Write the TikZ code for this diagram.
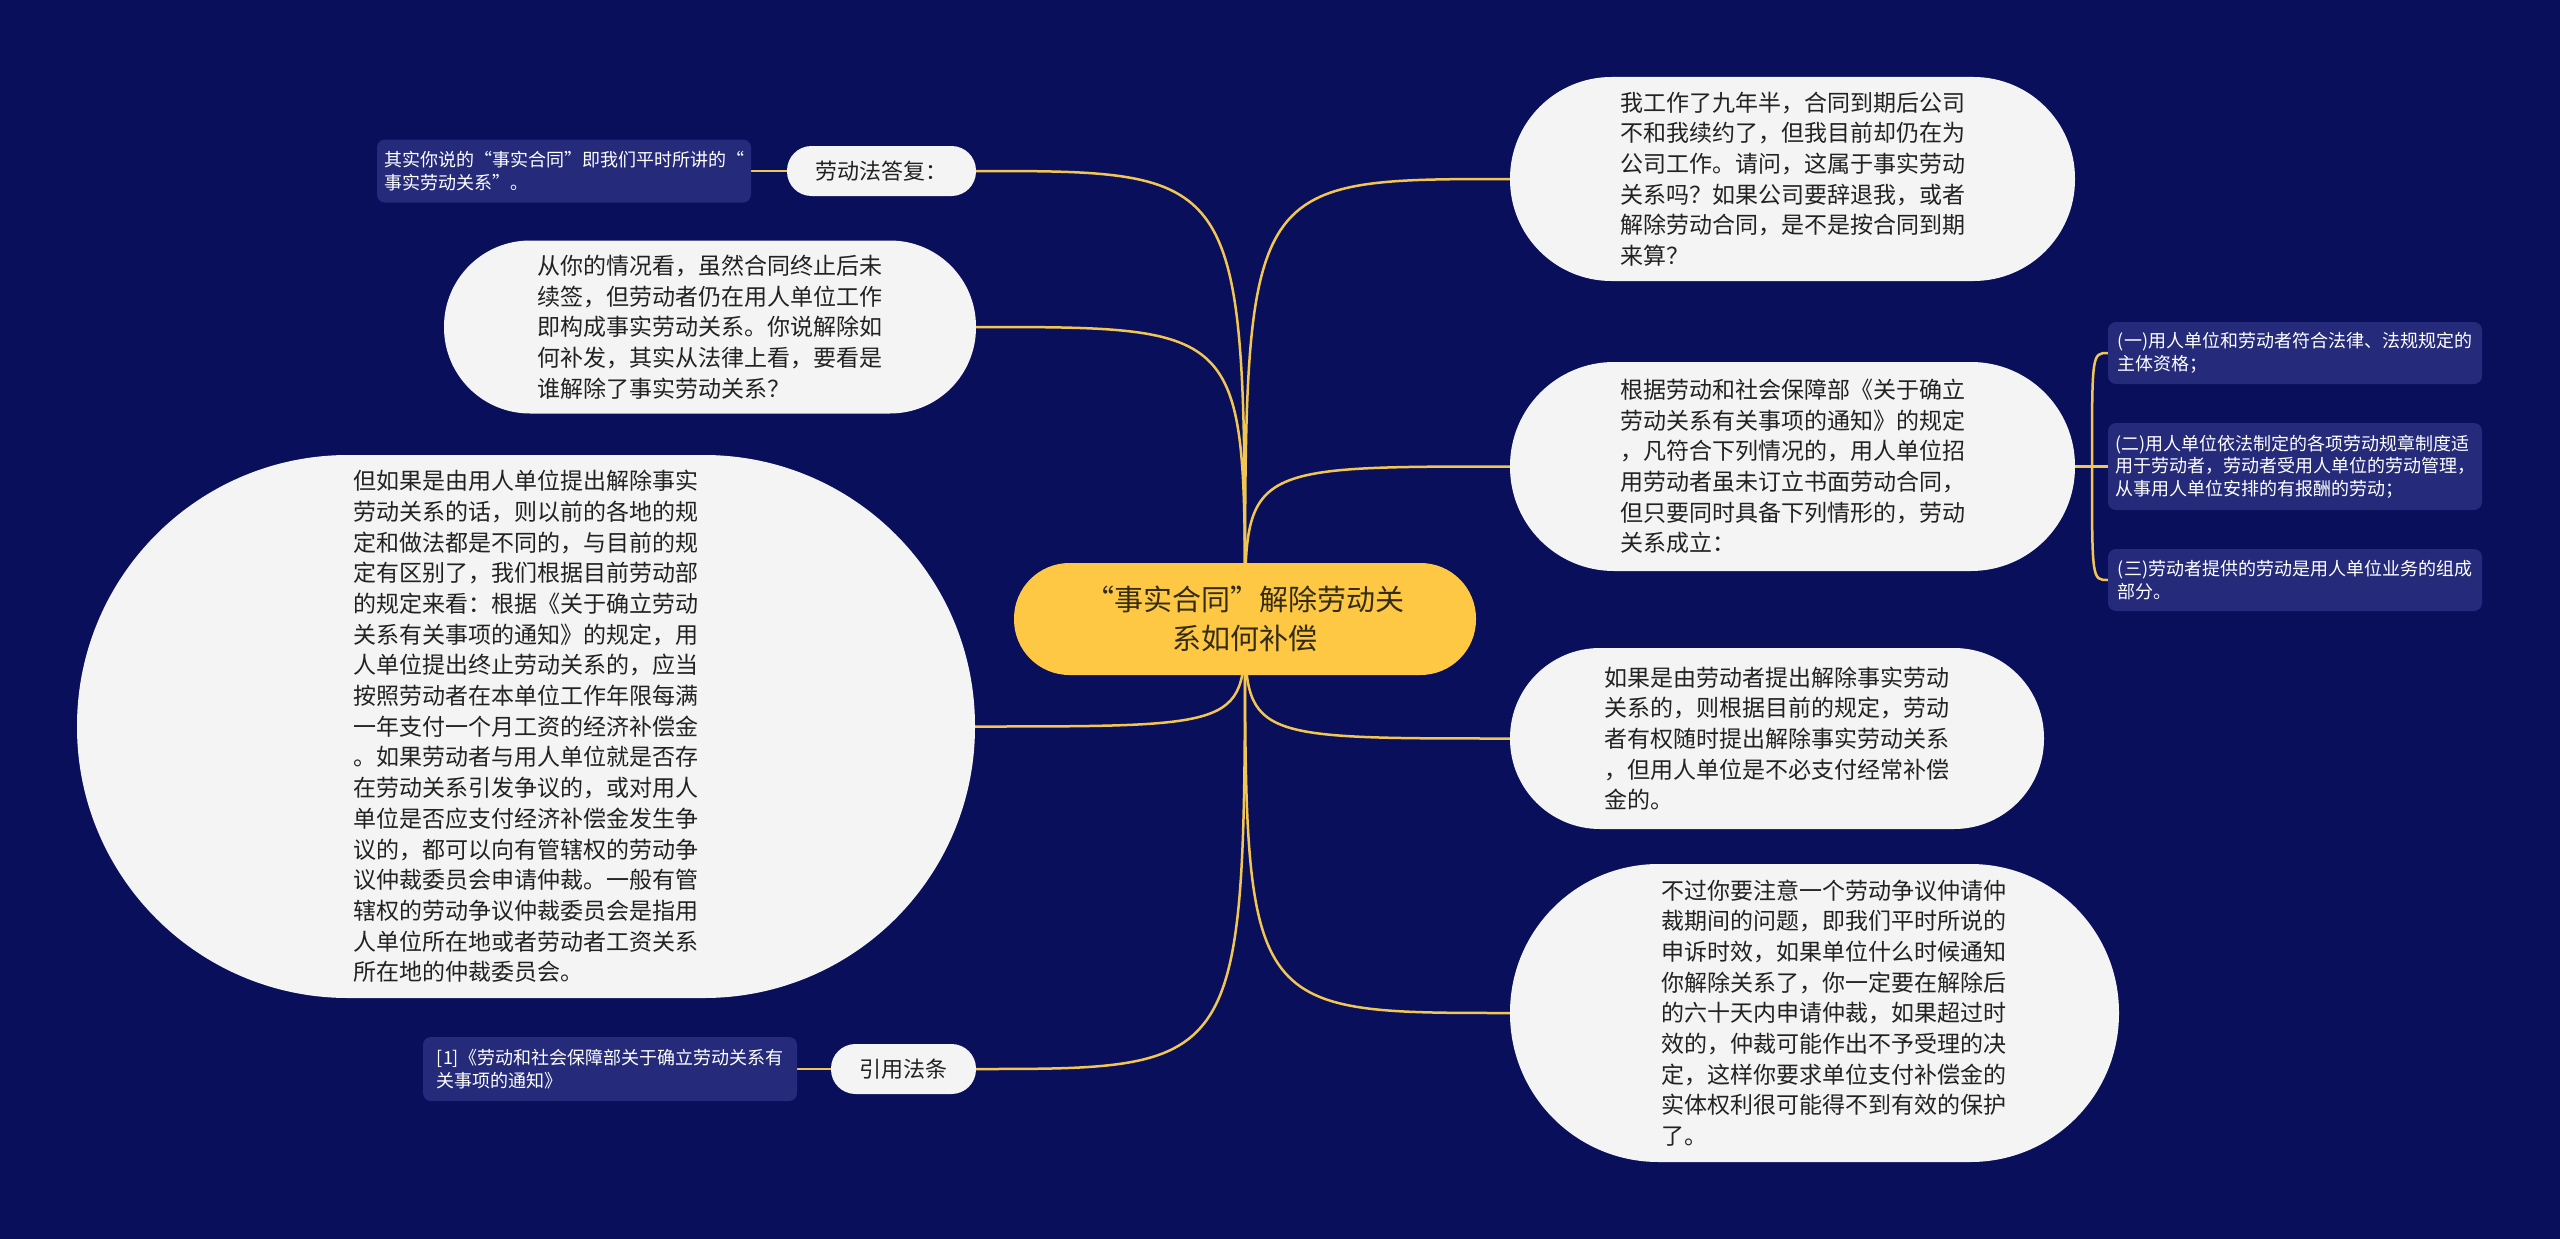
\documentclass[tikz,border=0pt]{standalone}
\usepackage{fontspec}
\setmainfont{Noto Sans CJK SC}
\usetikzlibrary{calc}
\definecolor{bgnavy}{RGB}{10,15,92}
\definecolor{leafnavy}{RGB}{37,43,122}
\definecolor{nodewhite}{RGB}{244,244,244}
\definecolor{textdark}{RGB}{34,34,34}
\definecolor{centergold}{RGB}{255,200,68}
\definecolor{centertext}{RGB}{51,43,20}
\definecolor{linegold}{RGB}{242,198,82}
\pgfdeclarelayer{bglayer}
\pgfdeclarelayer{linelayer}
\pgfsetlayers{bglayer,linelayer,main}
\newcommand{\indl}{\hspace*{38pt}}
\tikzset{
  topic/.style={fill=nodewhite, text=textdark, align=left, inner sep=0pt,
    font=\fontsize{23}{30.7}\selectfont},
  sub/.style={fill=nodewhite, text=textdark, align=center, inner sep=0pt,
    font=\fontsize{22}{28}\selectfont},
  leafbox/.style={fill=leafnavy, text=white, rounded corners=8pt, align=left, inner sep=0pt,
    font=\fontsize{18}{22.5}\selectfont},
  link/.style={draw=linegold, line width=2.5pt},
}
\begin{document}
\begin{tikzpicture}[x=1pt,y=-1pt]
\useasboundingbox (0,0) rectangle (2560,1239);
\begin{pgfonlayer}{bglayer}
\fill[bgnavy] (0,0) rectangle (2560,1239);
\end{pgfonlayer}

% centre
\node[fill=centergold, text=centertext, align=center, inner sep=0pt,
  minimum width=462pt, minimum height=112pt, rounded corners=55.5pt,
  font=\fontsize{29}{39}\selectfont] (c) at (1245,619) {“事实合同”解除劳动关\\系如何补偿};

% left side
\node[sub, minimum width=189pt, minimum height=50pt, rounded corners=24.5pt] (l1) at (881.5,171) {劳动法答复：};
\node[leafbox, minimum width=374pt, minimum height=63pt] (lf1) at (564,171) {其实你说的“事实合同”即我们平时所讲的“\\事实劳动关系”。};

\node[topic, minimum width=532pt, minimum height=173pt, rounded corners=86pt] (l2) at (710,327) {从你的情况看，虽然合同终止后未\\续签，但劳动者仍在用人单位工作\\即构成事实劳动关系。你说解除如\\何补发，其实从法律上看，要看是\\谁解除了事实劳动关系？};

\node[topic, minimum width=898pt, minimum height=543pt, rounded corners=271pt] (l3) at (526,726.5) {但如果是由用人单位提出解除事实\\劳动关系的话，则以前的各地的规\\定和做法都是不同的，与目前的规\\定有区别了，我们根据目前劳动部\\的规定来看：根据《关于确立劳动\\关系有关事项的通知》的规定，用\\人单位提出终止劳动关系的，应当\\按照劳动者在本单位工作年限每满\\一年支付一个月工资的经济补偿金\\。如果劳动者与用人单位就是否存\\在劳动关系引发争议的，或对用人\\单位是否应支付经济补偿金发生争\\议的，都可以向有管辖权的劳动争\\议仲裁委员会申请仲裁。一般有管\\辖权的劳动争议仲裁委员会是指用\\人单位所在地或者劳动者工资关系\\所在地的仲裁委员会。};

\node[sub, minimum width=145pt, minimum height=50pt, rounded corners=24.5pt] (l4) at (903.5,1069) {引用法条};
\node[leafbox, minimum width=374pt, minimum height=64pt] (lf2) at (610,1069) {[1]《劳动和社会保障部关于确立劳动关系有\\关事项的通知》};

% right side
\node[topic, minimum width=565pt, minimum height=204pt, rounded corners=101.5pt] (r1) at (1792.5,179) {我工作了九年半，合同到期后公司\\不和我续约了，但我目前却仍在为\\公司工作。请问，这属于事实劳动\\关系吗？如果公司要辞退我，或者\\解除劳动合同，是不是按合同到期\\来算？};

\node[topic, minimum width=565pt, minimum height=209pt, rounded corners=104pt] (r2) at (1792.5,466.5) {根据劳动和社会保障部《关于确立\\劳动关系有关事项的通知》的规定\\，凡符合下列情况的，用人单位招\\用劳动者虽未订立书面劳动合同，\\但只要同时具备下列情形的，劳动\\关系成立：};

\node[leafbox, minimum width=374pt, minimum height=62pt] (ra) at (2295,353) {(一)用人单位和劳动者符合法律、法规规定的\\主体资格；};
\node[leafbox, minimum width=374pt, minimum height=87pt] (rb) at (2295,466.5) {(二)用人单位依法制定的各项劳动规章制度适\\用于劳动者，劳动者受用人单位的劳动管理，\\从事用人单位安排的有报酬的劳动；};
\node[leafbox, minimum width=374pt, minimum height=62pt] (rc) at (2295,580) {(三)劳动者提供的劳动是用人单位业务的组成\\部分。};
\coordinate (j) at (2092,466.5);

\node[topic, minimum width=534pt, minimum height=181pt, rounded corners=90pt] (r3) at (1777,738.5) {如果是由劳动者提出解除事实劳动\\关系的，则根据目前的规定，劳动\\者有权随时提出解除事实劳动关系\\，但用人单位是不必支付经常补偿\\金的。};

\node[topic, minimum width=609pt, minimum height=298pt, rounded corners=148.5pt] (r4) at (1814.5,1013) {\indl 不过你要注意一个劳动争议仲请仲\\\indl 裁期间的问题，即我们平时所说的\\\indl 申诉时效，如果单位什么时候通知\\\indl 你解除关系了，你一定要在解除后\\\indl 的六十天内申请仲裁，如果超过时\\\indl 效的，仲裁可能作出不予受理的决\\\indl 定，这样你要求单位支付补偿金的\\\indl 实体权利很可能得不到有效的保护\\\indl 了。};

% connectors
\begin{pgfonlayer}{linelayer}
\draw[link] (c.center) .. controls (c.center |- l1.east) .. (l1.east);
\draw[link] (c.center) .. controls (c.center |- l2.east) .. (l2.east);
\draw[link] (c.center) .. controls (c.center |- l3.east) .. (l3.east);
\draw[link] (c.center) .. controls (c.center |- l4.east) .. (l4.east);
\draw[link] (c.center) .. controls (c.center |- r1.west) .. (r1.west);
\draw[link] (c.center) .. controls (c.center |- r2.west) .. (r2.west);
\draw[link] (c.center) .. controls (c.center |- r3.west) .. (r3.west);
\draw[link] (c.center) .. controls (c.center |- r4.west) .. (r4.west);
\draw[link] (l1.west) -- (lf1.east);
\draw[link] (l4.west) -- (lf2.east);
\draw[link] (r2.east) -- (rb.west);
\draw[link] (j) .. controls (j |- ra.west) .. (ra.west);
\draw[link] (j) .. controls (j |- rc.west) .. (rc.west);
\end{pgfonlayer}
\end{tikzpicture}
\end{document}
